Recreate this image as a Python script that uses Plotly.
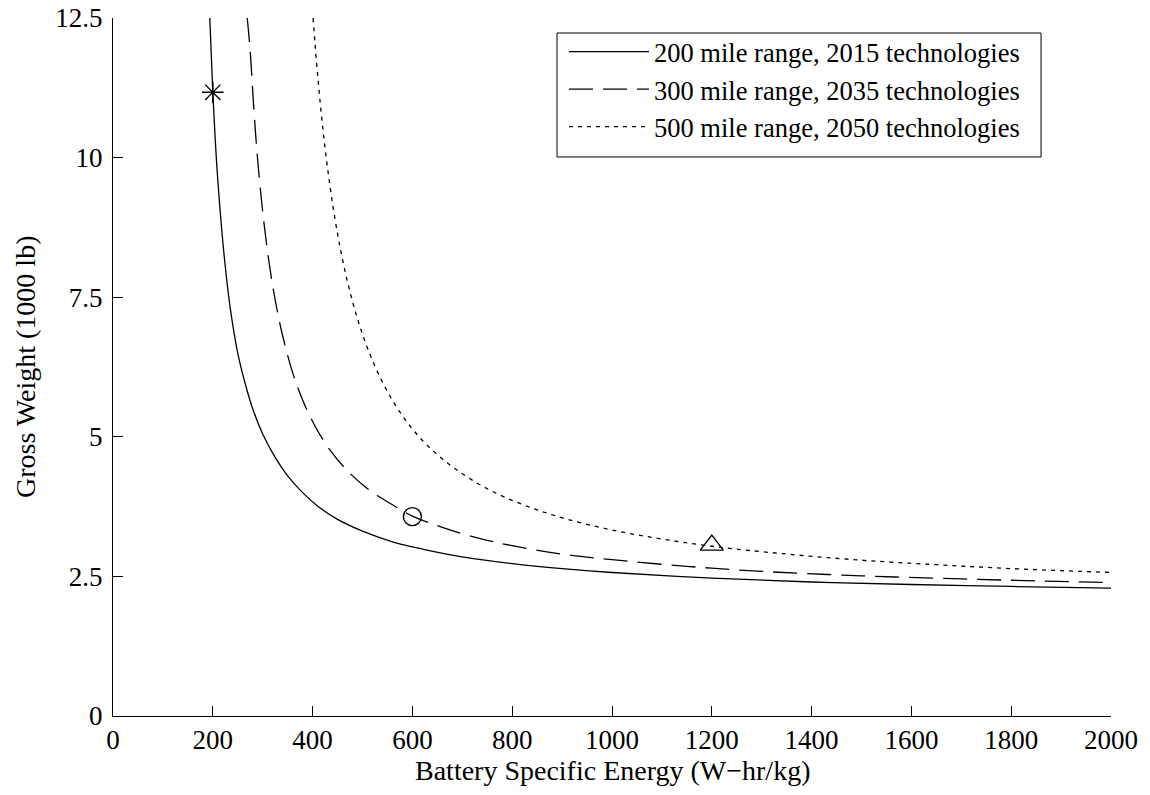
import plotly.graph_objects as go

# Battery specific energy (W-hr/kg) and gross weight (1000 lb)
e_200 = [194, 200, 205, 210, 218, 225, 235, 250, 265, 280, 300, 325, 350, 380, 410, 450,
         500, 560, 620, 700, 800, 900, 1000, 1200, 1400, 1600, 1800, 2000]
w_200 = [12.5, 11.17, 10.3, 9.6, 8.7, 8.05, 7.3, 6.5, 5.95, 5.5, 5.05, 4.63, 4.3, 4.0, 3.76, 3.52,
         3.31, 3.12, 2.99, 2.85, 2.73, 2.64, 2.57, 2.47, 2.40, 2.355, 2.32, 2.29]

e_300 = [269, 275, 282, 290, 300, 312, 325, 340, 360, 380, 405, 435, 470, 510, 555, 600,
         660, 730, 800, 900, 1000, 1150, 1300, 1500, 1700, 1850, 2000]
w_300 = [12.5, 11.9, 10.9, 9.95, 9.03, 8.17, 7.45, 6.81, 6.15, 5.66, 5.19, 4.76, 4.39, 4.07, 3.81, 3.58,
         3.38, 3.19, 3.05, 2.90, 2.80, 2.68, 2.59, 2.51, 2.455, 2.42, 2.39]

e_500 = [401, 405, 412, 420, 430, 442, 456, 472, 490, 510, 535, 565, 600, 640, 690, 750,
         820, 900, 1000, 1100, 1200, 1350, 1500, 1650, 1800, 2000]
w_500 = [12.5, 12.02, 11.29, 10.56, 9.81, 9.06, 8.35, 7.70, 7.11, 6.59, 6.07, 5.58, 5.14, 4.76, 4.40, 4.07,
         3.79, 3.55, 3.33, 3.17, 3.04, 2.90, 2.79, 2.71, 2.64, 2.57]

labels = ["200 mile range, 2015 technologies",
          "300 mile range, 2035 technologies",
          "500 mile range, 2050 technologies"]

# Design points
pt_e = [200, 600, 1200]
pt_w = [11.17, 3.57, 3.06]
pt_symbols = ["asterisk-open", "circle-open", "triangle-up-open"]
pt_sizes = [18, 18, 20]

x_ticks = [0, 200, 400, 600, 800, 1000, 1200, 1400, 1600, 1800, 2000]
y_ticks = [0, 2.5, 5, 7.5, 10, 12.5]
y_ticktext = ["0", "2.5", "5", "7.5", "10", "12.5"]

x_title = "Battery Specific Energy (W\u2212hr/kg)"
y_title = "Gross Weight (1000 lb)"

FONT = "Liberation Serif, Times New Roman, serif"

fig = go.Figure()
series = [(e_200, w_200, "solid"), (e_300, w_300, "24px,10px"), (e_500, w_500, "4px,5px")]
for (ex, wy, dash), name in zip(series, labels):
    fig.add_trace(go.Scatter(
        x=ex, y=wy, mode="lines", name=name,
        line=dict(color="black", width=1.3, dash=dash, shape="spline", smoothing=1.0),
        hoverinfo="skip"))

for e, w, s, sz in zip(pt_e, pt_w, pt_symbols, pt_sizes):
    fig.add_trace(go.Scatter(
        x=[e], y=[w], mode="markers", showlegend=False,
        marker=dict(symbol=s, size=sz, color="black", line=dict(color="black", width=1.4)),
        hoverinfo="skip"))

axis_common = dict(
    showline=True, linecolor="black", linewidth=1, mirror=False,
    ticks="inside", ticklen=10, tickwidth=1, tickcolor="black",
    showgrid=False, zeroline=False, automargin=False,
    tickfont=dict(family=FONT, size=27, color="black"),
)

fig.update_layout(
    width=1150, height=795,
    margin=dict(l=113, r=39, t=18, b=79),
    paper_bgcolor="white", plot_bgcolor="white",
    font=dict(family=FONT, color="black"),
    xaxis=dict(range=[0, 2000], tickvals=x_ticks, **axis_common),
    yaxis=dict(range=[0, 12.5], tickvals=y_ticks, ticktext=y_ticktext,
               ticklabelstandoff=4, **axis_common),
    legend=dict(x=0.4519, y=0.9857, xanchor="left", yanchor="top",
                bgcolor="rgba(0,0,0,0)", borderwidth=0,
                font=dict(family=FONT, size=26.5, color="black"),
                itemwidth=80, tracegroupgap=0),
    showlegend=True,
    shapes=[dict(type="rect", xref="paper", yref="paper",
                 x0=0.4449, x1=0.9299, y0=0.8009, y1=0.9785,
                 line=dict(color="black", width=1), fillcolor="white", layer="above")],
    annotations=[
        dict(text=x_title, xref="paper", yref="paper", x=0.5, y=-0.0785,
             xanchor="center", yanchor="middle", showarrow=False,
             font=dict(family=FONT, size=28, color="black")),
        dict(text=y_title, xref="paper", yref="paper", x=-0.0882, y=0.5,
             xanchor="center", yanchor="middle", textangle=-90, showarrow=False,
             font=dict(family=FONT, size=28, color="black")),
    ],
)

fig.write_html("out.html", config={"displayModeBar": False})
